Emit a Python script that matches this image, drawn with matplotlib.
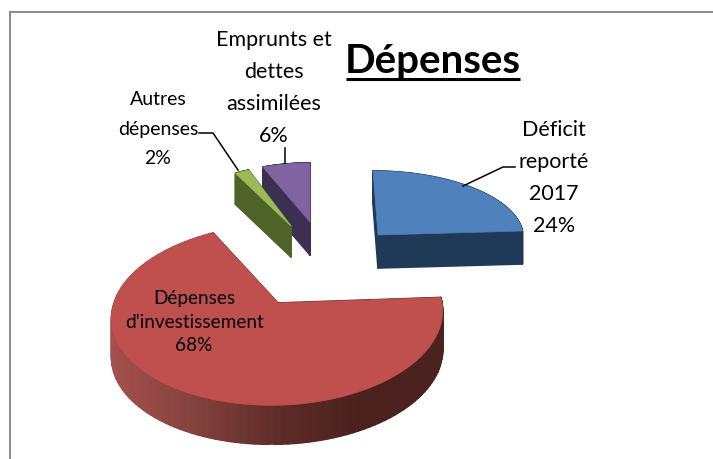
import numpy as np
import matplotlib
matplotlib.use("Agg")
import matplotlib.pyplot as plt
from matplotlib.collections import PolyCollection
from matplotlib.colors import LinearSegmentedColormap
from matplotlib.patches import Polygon

# data
names = ["Déficit\nreporté\n2017", "Dépenses\nd'investissement", "Autres\ndépenses", "Emprunts et\ndettes\nassimilées"]
values = [24, 68, 2, 6]
title = "Dépenses"

top_colors = ["#4f81bd", "#c0504d", "#9bbb59", "#8064a2"]
wall_colors = ["#1f3a56", None, "#4f6228", "#3b2f52"]

plt.rcParams["font.family"] = ["Lato", "DejaVu Sans"]


def outline(a0, a1, cx, cy, rx, ry, k, skew):
    # apex + arc of a slice, with a bit of perspective on the ellipse
    t = np.radians(np.linspace(a0, a1, 120))
    u, v = np.cos(t), np.sin(t)
    s = 1 / (1 + k * v)
    x = np.r_[cx, cx + rx * u * s + skew * v]
    y = np.r_[cy, cy - ry * v * s]
    return x, y


def draw_slice(ax, a0, a1, geom, top, wall, depth):
    x, y = outline(a0, a1, *geom)
    x = np.r_[x, x[0]]
    y = np.r_[y, y[0]]
    quads = []
    for i in range(len(x) - 1):
        quads.append([(x[i], y[i]), (x[i + 1], y[i + 1]), (x[i + 1], y[i + 1] + depth), (x[i], y[i] + depth)])
    quads = np.array(quads)
    order = np.argsort(quads[:, :, 1].mean(axis=1))
    quads = quads[order]
    if wall is None:
        cmap = LinearSegmentedColormap.from_list("wall", ["#a5504c", "#84423e", "#5f2c28", "#4a211d", "#4c221e"])
        mid = quads[:, :, 0].mean(axis=1)
        colors = cmap((mid - mid.min()) / (mid.max() - mid.min()))
    else:
        colors = [wall] * len(quads)
    ax.add_collection(PolyCollection(quads, facecolors=colors, edgecolors=colors, linewidths=1.2))
    ax.add_patch(Polygon(np.c_[x, y], closed=True, facecolor=top, edgecolor=top, linewidth=0.5))


fig = plt.figure(figsize=(7.13, 4.59), dpi=100)
ax = fig.add_axes([0, 0, 1, 1])
ax.set_xlim(0, 713)
ax.set_ylim(459, 0)
ax.axis("off")

# slices go clockwise from 12 o'clock
cum = np.r_[0, np.cumsum(values)] / sum(values) * 360
starts = 90 - cum[:-1]
ends = 90 - cum[1:]

geoms = [
    (378, 235, 145, 64, 0.0, -5),
    (278, 303, 164, 89, 0.13, 7),
    (291, 226, 115, 60, 0.0, 0),
    (310, 222, 128, 59, 0.0, 0),
]
depths = [33, 39, 31, 33]

for i in [3, 2, 1, 0]:
    draw_slice(ax, starts[i], ends[i], geoms[i], top_colors[i], wall_colors[i], depths[i])

# frame
ax.plot([10, 10, 713], [459, 11.5, 11.5], color="#8c8c8c", lw=1.4, solid_joinstyle="miter")

# title + underline
ax.text(433, 73, title, fontsize=29, fontweight="bold", ha="center", va="baseline", color="black")
ax.plot([346, 520], [79, 79], color="black", lw=2.2, solid_capstyle="butt")

# labels
ax.text(554, 178.5, f"{names[0]}\n{values[0]}%", fontsize=15.5, ha="center", va="center", linespacing=1.75)
ax.text(194, 322, f"{names[1]}\n{values[1]}%", fontsize=13.7, ha="center", va="center", linespacing=1.44)
ax.text(158, 129, f"{names[2]}\n{values[2]}%", fontsize=14, ha="center", va="center", linespacing=1.9)
ax.text(274, 87.5, f"{names[3]}\n{values[3]}%", fontsize=15.5, ha="center", va="center", linespacing=1.75)

# leader lines
ax.plot([515, 503, 463], [167, 167, 186], color="black", lw=1.1)
ax.plot([199, 213, 238], [133, 133, 170], color="black", lw=1.1)
ax.plot([285, 285], [148, 163], color="black", lw=1.1)

fig.savefig("out.png", dpi=100)
